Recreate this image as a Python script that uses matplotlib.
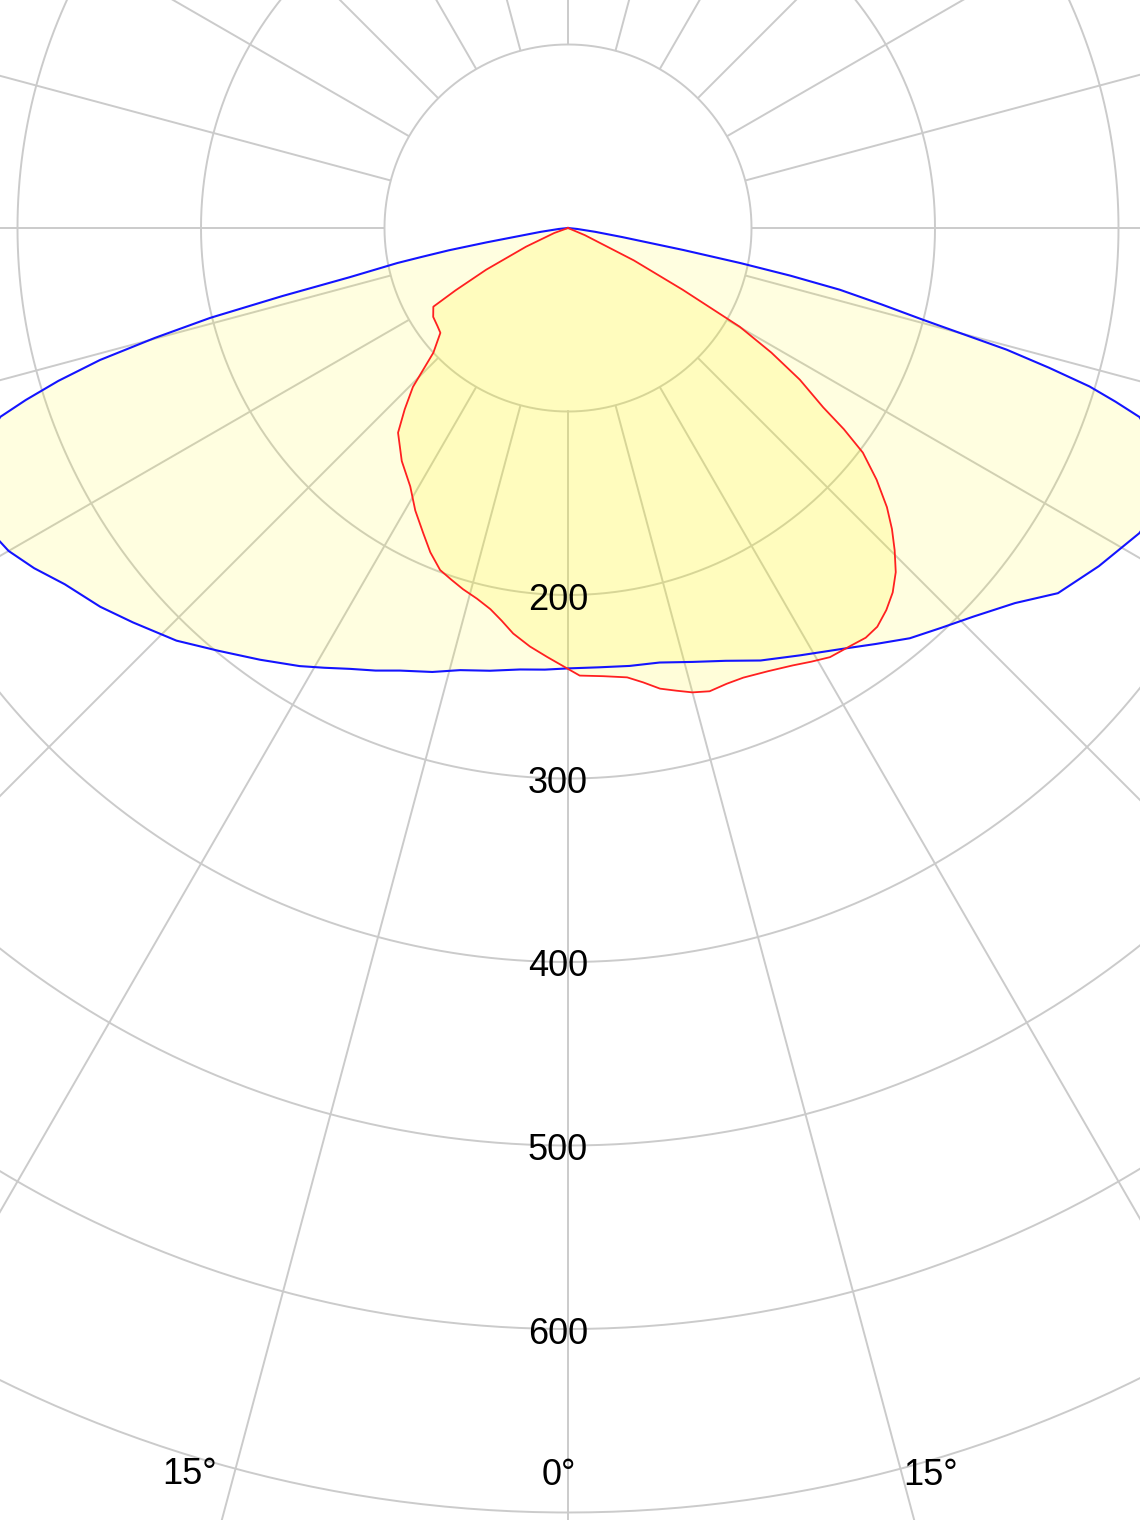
import numpy as np
import matplotlib
matplotlib.use("Agg")
import matplotlib.pyplot as plt
from matplotlib.transforms import offset_copy

# C0-C180 plane (blue), gamma in degrees, negative = left side, intensity in cd
blue_gamma = [-90, -84, -82, -80.5, -80, -79.4, -78.8, -78.4, -77.8, -77.3, -76.6, -75.9,
              -75.1, -74.25, -73.3, -72.4, -71.6, -70, -68, -66, -64, -62, -60, -57.5,
              -54.7, -51, -47.8, -43.5, -39.6, -35.5, -31.5, -29, -26.3, -23.5, -20.8,
              -17, -13.7, -10, -6.2, -3, 0, 4, 8, 11.9, 16, 20, 24, 28.5, 33.2, 36.5,
              39.8, 43, 46.2, 50, 53.3, 57.5, 61.9, 65, 68, 70, 71.7, 72.4, 73.1, 73.8,
              74.5, 75.5, 76.3, 77.2, 77.9, 78.5, 79.2, 80.5, 82, 84, 90]
blue_value = [0, 5, 15, 30, 45, 66, 82, 95, 108, 122, 160, 201,
              233, 265, 290, 310, 326, 338, 347, 352, 355, 355, 352, 345,
              336, 328, 320, 310, 299, 289, 280, 274, 268, 263, 258,
              253, 248, 245, 242, 241, 240, 240, 241, 242, 246, 251, 258, 265, 274, 282,
              291, 298, 306, 318, 333, 343, 353, 356, 348, 340, 328, 313, 297, 273,
              248, 200, 176, 152, 124, 96, 64, 30, 15, 5, 0]

# C90-C270 plane (red)
red_gamma = [-90, -70, -66, -63, -61, -59.7, -56.6, -53, -50.6, -47.2, -44.3, -42,
             -39.7, -35.5, -31.4, -28.4, -25.4, -23, -20.5, -18.3, -16.2, -13.8, -11.5,
             -9.6, -7.7, -5.2, -2.8, 0.3, 1.5, 4.5, 7.5, 9.4, 11.3, 13.2, 15, 17, 19.2,
             21.3, 24.3, 27.2, 29.3, 31.4, 34.3, 36, 37.8, 39.8, 41.7, 43.6, 45.4, 47.1,
             48.8, 50.8, 52.7, 53.9, 54.9, 56.8, 58.5, 60.1, 61.7, 63.8, 67, 90]
red_value = [0, 8, 25, 50, 70, 85, 88, 89, 90, 100, 121, 133,
             145, 156, 165, 175, 184, 192, 199, 202, 205, 208, 212,
             217, 223, 229, 234, 241, 244, 245, 247, 251, 256, 259, 262, 264, 263,
             263, 265, 268, 271, 274, 275, 276, 275, 271, 266, 259, 250, 241,
             231, 217, 202, 186, 170, 151, 130, 108, 71, 40, 10, 0]

ring_values = [100, 200, 300, 400, 500, 600, 700, 800]
ring_labels = ["200", "300", "400", "500", "600"]
angle_labels = ["15°", "0°", "15°"]

GRID = "#cbcbcb"
FILL = "#fff700"

fig = plt.figure(figsize=(11.4, 15.2), dpi=100)

# polar axes bigger than the figure: pole at (568, 228) px, 100 cd = 183.5 px
scale = 1.835
rmax = 800
cx, cy = 568, 1520 - 228
R = rmax * scale
ax = fig.add_axes([(cx - R) / 1140, (cy - R) / 1520, 2 * R / 1140, 2 * R / 1520],
                  projection="polar")
ax.set_theta_zero_location("S")
ax.set_theta_direction(1)
ax.set_ylim(0, rmax)
ax.grid(False)
ax.set_xticks([])
ax.set_yticks([])
ax.spines["polar"].set_visible(False)

# grid: rings and radial lines starting at the first ring
circ = np.linspace(0, 2 * np.pi, 721)
for rv in ring_values:
    ax.plot(circ, np.full_like(circ, rv), color=GRID, lw=1.4, zorder=1)
spokes = np.deg2rad(np.arange(0, 360, 15))
ax.vlines(spokes, ring_values[0], rmax, color=GRID, lw=1.4, zorder=1)

bt = np.deg2rad(blue_gamma)
rt = np.deg2rad(red_gamma)
ax.fill(bt, blue_value, color=FILL, alpha=0.12, lw=0, zorder=2)
ax.fill(rt, red_value, color=FILL, alpha=0.15, lw=0, zorder=2)
ax.plot(bt, blue_value, color="#1414ff", lw=1.5, zorder=3)
ax.plot(rt, red_value, color="#ff2020", lw=1.3, zorder=3)

fam = ["Liberation Sans", "DejaVu Sans"]
lab_tr = offset_copy(ax.transData, fig=fig, x=-10, y=-5, units="dots")
for lab in ring_labels:
    ax.text(0, float(lab), lab, transform=lab_tr, ha="center", va="center",
            fontsize=26, family=fam, color="black", zorder=4)

for lab, th, rr in zip(angle_labels, [-16.9, -0.4, 16.2], [710, 680, 708]):
    ax.text(np.deg2rad(th), rr, lab, ha="center", va="center",
            fontsize=26, family=fam, color="black", zorder=4)

fig.savefig("out.png", dpi=100)
plt.close(fig)
